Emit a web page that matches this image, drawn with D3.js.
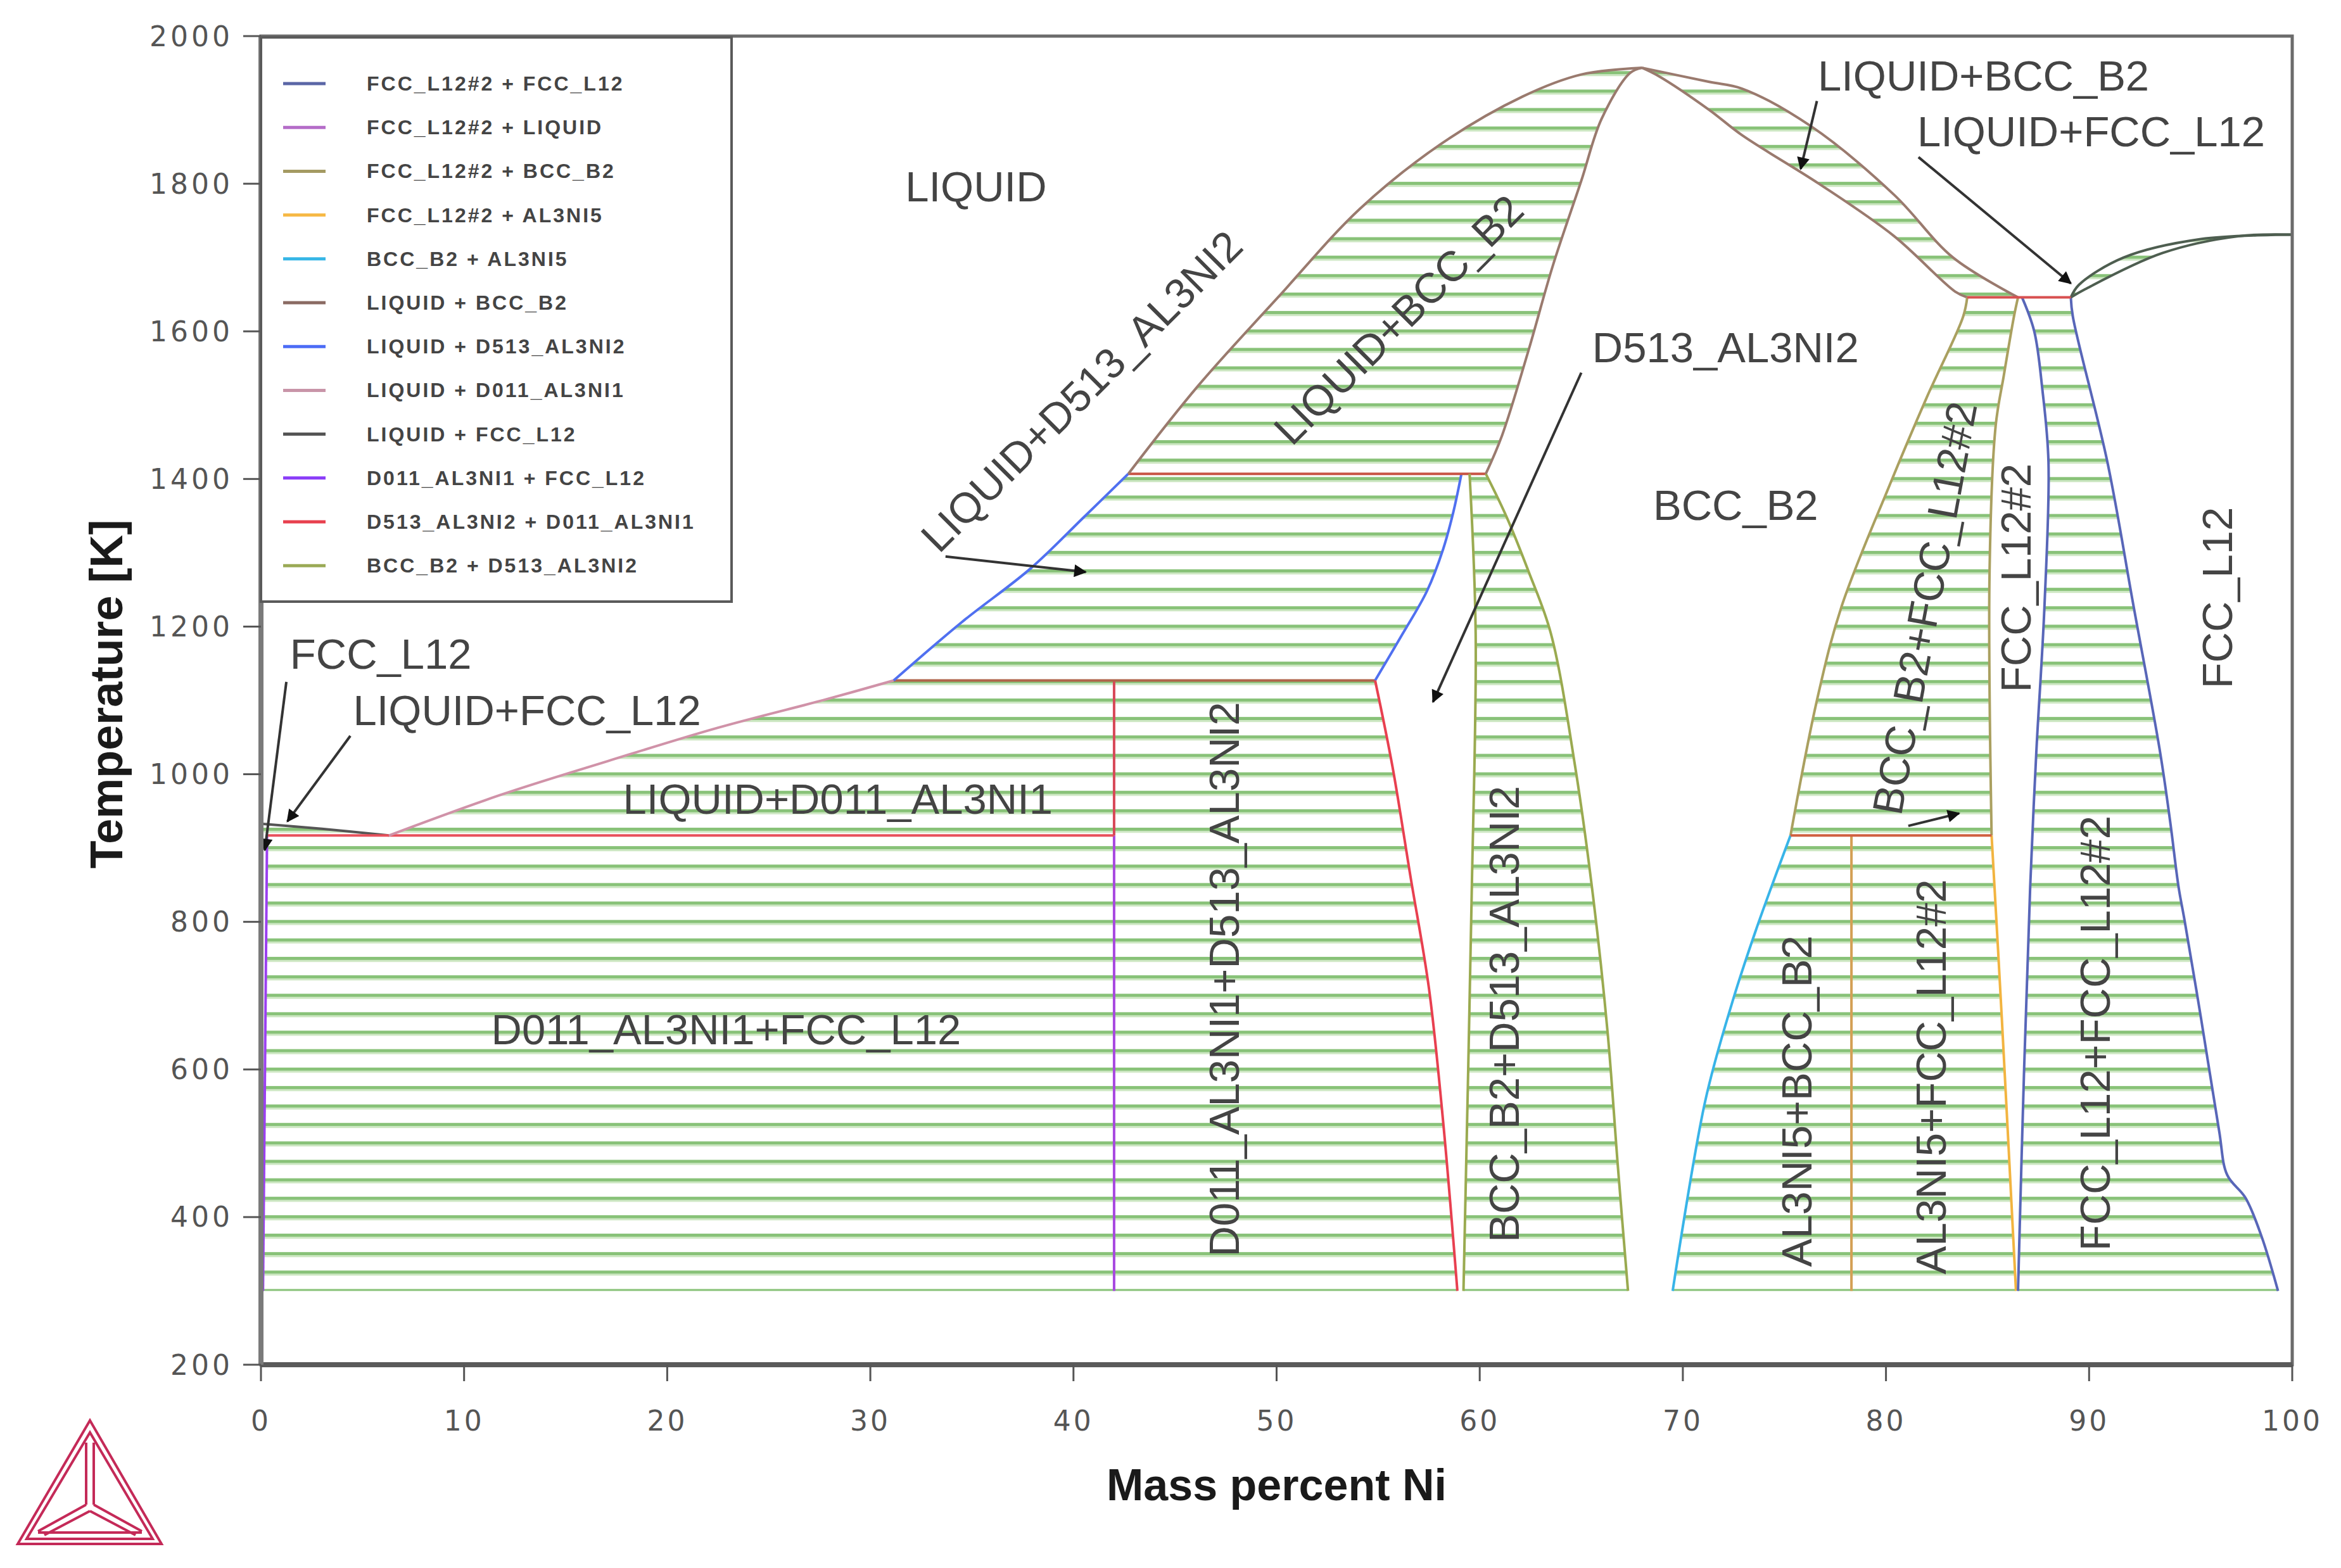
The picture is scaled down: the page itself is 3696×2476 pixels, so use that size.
<!DOCTYPE html>
<html>
<head>
<meta charset="utf-8">
<script src="https://cdn.jsdelivr.net/npm/d3@7"></script>
<style>
  body { margin: 0; background: #fff; }
  svg { display: block; }
</style>
</head>
<body>
<script>
// ---------------- tick labels ----------------
const xTicks = [0, 10, 20, 30, 40, 50, 60, 70, 80, 90, 100]
const yTicks = [200, 400, 600, 800, 1000, 1200, 1400, 1600, 1800, 2000]

// ---------------- phase boundaries  [mass % Ni, T (K)] ----------------
const fccSolvus = [[0.1, 300], [0.3, 917]]
const liqFcc = [[0, 933], [3, 926], [6.3, 917]]
const liqD011 = [[6.3, 917], [11.8, 972], [17.1, 1018], [22.5, 1063], [27.9, 1102], [31.15, 1127]]
const d011High = [[42, 917], [42, 1127]]
const d011Low = [[42, 300], [42, 917]]
const liqD513L = [[31.15, 1127], [34.5, 1206], [37.9, 1279], [40.5, 1348], [42.7, 1407]]
const liqD513R = [[54.85, 1127], [56.2, 1190], [57.4, 1248], [58.2, 1305], [58.7, 1355], [59.1, 1407]]
const d513Solv = [[54.85, 1127], [55.7, 1011], [56.6, 860], [57.5, 710], [58.2, 529], [58.9, 300]]
const bccD513L = [[59.5, 1407], [59.8, 1191], [59.6, 830], [59.2, 300]]
const bccD513R = [[60.3, 1407], [61.3, 1350], [62.4, 1275], [63.5, 1191], [64.7, 1010], [65.6, 830], [66.3, 649], [66.8, 469], [67.3, 300]]
const liqBccL = [[42.7, 1407], [46.1, 1525], [50.1, 1647], [54.1, 1766], [58.1, 1854], [62.1, 1918], [65.0, 1948], [68.0, 1957]]
const solBccL = [[60.3, 1407], [61.1, 1459], [62.4, 1574], [63.6, 1689], [65.0, 1804], [66.0, 1888], [67.4, 1950], [68.0, 1957]]
const liqBccR = [[68.0, 1957], [71.3, 1938], [72.9, 1929], [76.3, 1878], [80.4, 1785], [83.3, 1700], [86.5, 1646]]
const solBccR = [[68.0, 1957], [68.8, 1946], [71.3, 1900], [72.9, 1866], [76.7, 1800], [80.4, 1729], [83.4, 1654], [84.0, 1646]]
const bccL12L = [[84.0, 1646], [83.8, 1620], [82.0, 1510], [80.2, 1393], [77.8, 1226], [76.6, 1100], [75.3, 917]]
const bccL12R = [[86.5, 1646], [86.3, 1620], [85.8, 1540], [85.4, 1472], [85.1, 1275], [85.2, 917]]
const bccAl3 = [[75.3, 917], [73.6, 789], [72.4, 688], [71.1, 557], [69.5, 300]]
const al3ni5 = [[78.3, 917], [78.3, 300]]
const l12Al3 = [[85.2, 917], [85.7, 671], [86.4, 300]]
const l12L = [[86.7, 1646], [87.3, 1600], [87.7, 1521], [88.0, 1423], [87.8, 1226], [87.4, 1029], [87.1, 848], [86.8, 600], [86.5, 300]]
const l12R = [[89.1, 1646], [89.2, 1620], [90.9, 1423], [92.2, 1226], [93.5, 1029], [94.0, 934], [94.4, 848], [94.7, 802], [95.5, 671], [96.4, 517], [96.8, 457], [97.7, 426], [98.5, 373], [99.3, 300]]
const liqL12 = [[89.1, 1646], [89.5, 1663], [91.7, 1700], [95.5, 1725], [100, 1731]]
const solL12 = [[89.1, 1646], [89.8, 1657], [93.6, 1706], [97.4, 1729], [100, 1731]]

// invariant (three phase) lines
const inv917 = [[0.3, 917], [42, 917]]
const inv1127 = [[31.15, 1127], [54.85, 1127]]
const inv1407 = [[42.7, 1407], [60.3, 1407]]
const inv1646 = [[84.0, 1646], [89.1, 1646]]
const inv917R = [[75.3, 917], [85.2, 917]]

// ---------------- legend ----------------
const legendNames = [
    'FCC_L12#2 + FCC_L12', 'FCC_L12#2 + LIQUID', 'FCC_L12#2 + BCC_B2', 'FCC_L12#2 + AL3NI5',
    'BCC_B2 + AL3NI5', 'LIQUID + BCC_B2', 'LIQUID + D513_AL3NI2', 'LIQUID + D011_AL3NI1',
    'LIQUID + FCC_L12', 'D011_AL3NI1 + FCC_L12', 'D513_AL3NI2 + D011_AL3NI1', 'BCC_B2 + D513_AL3NI2'
]
const legendColors = ['#5a66a6', '#b46cc8', '#a49a62', '#f6b946', '#36b6e6', '#8a6a62',
    '#4c6cf6', '#c894a8', '#555555', '#8a3cf8', '#e8404e', '#9aaa56']

// ---------------- labels ----------------
const labelTexts = ['LIQUID', 'LIQUID+D513_AL3NI2', 'LIQUID+BCC_B2', 'D513_AL3NI2', 'BCC_B2',
    'LIQUID+BCC_B2', 'LIQUID+FCC_L12', 'BCC_B2+FCC_L12#2', 'FCC_L12#2', 'FCC_L12',
    'AL3NI5+BCC_B2', 'AL3NI5+FCC_L12#2', 'FCC_L12+FCC_L12#2', 'D011_AL3NI1+D513_AL3NI2',
    'BCC_B2+D513_AL3NI2', 'D011_AL3NI1+FCC_L12', 'LIQUID+D011_AL3NI1', 'FCC_L12', 'LIQUID+FCC_L12']
const labelAt = [[35.2, 1796], [40.4, 1519], [56.0, 1616], [72.1, 1578], [72.6, 1365],
    [84.8, 1946], [90.1, 1871], [81.9, 1225], [86.4, 1266], [96.3, 1239],
    [75.6, 557], [82.2, 590], [90.3, 649], [47.4, 722],
    [61.2, 675], [22.9, 654], [28.4, 967], [5.9, 1163], [13.1, 1087]]
const labelAngles = [0, -45, -45, 0, 0, 0, 0, -79.5, -90, -90, -90, -90, -90, -90, -90, 0, 0, 0, 0]

// arrows: from -> to
const arrows = [
    [[33.7, 1295], [40.6, 1274]],
    [[65.0, 1544], [57.7, 1098]],
    [[76.6, 1912], [75.8, 1820]],
    [[81.6, 1836], [89.1, 1665]],
    [[81.1, 930], [83.6, 947]],
    [[1.25, 1125], [0.19, 897]],
    [[4.4, 1052], [1.3, 936]]
]

// ---------------- setup ----------------
const W = 3696, H = 2476
const plot = { left: 412, top: 57, right: 3619, bottom: 2155 }

const svg = d3.select('body').append('svg')
    .attr('width', W)
    .attr('height', H)

const x = d3.scaleLinear().domain([0, 100]).range([plot.left, plot.right])
const y = d3.scaleLinear().domain([200, 2000]).range([plot.bottom, plot.top])
const line = d3.line()
    .x(d => x(d[0])).y(d => y(d[1]))
    .curve(d3.curveCatmullRom.alpha(0.5))

// a closed outline made of several boundary pieces
function outline(pieces) {
    return pieces.map((p, i) => {
        const s = line(p)
        return i ? 'L' + s.slice(1) : s
    }).join('') + 'Z'
}

// tie line hatch
const tieStep = y(0) - y(25)
const defs = svg.append('defs')
const pat = defs.append('pattern')
    .attr('id', 'tie')
    .attr('patternUnits', 'userSpaceOnUse')
    .attr('width', 20)
    .attr('height', tieStep)
    .attr('y', y(300) - 3)
pat.append('rect').attr('x', 0).attr('y', 0).attr('width', 20).attr('height', 5).attr('fill', '#88c278')
pat.append('rect').attr('x', 0).attr('y', 5).attr('width', 20).attr('height', 3).attr('fill', '#cbe6c0')

defs.append('marker')
    .attr('id', 'head')
    .attr('viewBox', '0 0 10 10')
    .attr('refX', 9).attr('refY', 5)
    .attr('markerWidth', 6).attr('markerHeight', 5)
    .attr('markerUnits', 'strokeWidth')
    .attr('orient', 'auto')
    .append('path').attr('d', 'M0,0 L10,5 L0,10 z').attr('fill', '#111')

const rev = a => a.slice().reverse()

// ---------------- regions ----------------
const regions = [
    [fccSolvus, inv917, rev(d011Low)],
    [liqD011, [[31.15, 1127], [42, 1127]], rev(d011High)],
    [[[42, 1127], [54.85, 1127]], d513Solv, [[58.9, 300], [42, 300]]],
    [liqD513L, [[42.7, 1407], [59.1, 1407]], rev(liqD513R)],
    [bccD513R, rev(bccD513L)],
    [liqBccL, rev(solBccL)],
    [liqBccR, rev(solBccR)],
    [bccL12L, rev(bccL12R)],
    [bccAl3, [[69.5, 300], [78.3, 300]], rev(al3ni5)],
    [[[78.3, 917], [85.2, 917]], l12Al3, [[86.4, 300], [78.3, 300]]],
    [l12L, rev(l12R)],
    [liqL12, rev(solL12)],
    [liqFcc, [[6.3, 917], [0.3, 917], [0, 933]]]
]

svg.append('g').selectAll('path')
    .data(regions)
    .enter().append('path')
    .attr('d', d => outline(d))
    .attr('fill', 'url(#tie)')

// ---------------- boundary lines ----------------
const bounds = [
    [fccSolvus, '#9a40f0'], [d011Low, '#a848e0'], [liqFcc, '#555555'],
    [inv917, '#e8505c'], [liqD011, '#d092a8'], [d011High, '#d84858'],
    [inv1127, '#b0644a'], [liqD513L, '#5070f0'], [liqD513R, '#5070f0'],
    [d513Solv, '#e84050'], [inv1407, '#c85545'],
    [bccD513L, '#9aaa50'], [bccD513R, '#9aaa50'],
    [liqBccL, '#9a7a6e'], [solBccL, '#9a7a6e'], [liqBccR, '#9a7a6e'], [solBccR, '#9a7a6e'],
    [bccL12L, '#aaa060'], [bccL12R, '#aaa060'],
    [bccAl3, '#38b4e8'], [al3ni5, '#d4a055'], [l12Al3, '#f2b440'],
    [l12L, '#5866b8'], [l12R, '#5866b8'],
    [liqL12, '#4e5e50'], [solL12, '#4e5e50'],
    [inv1646, '#d85050'], [inv917R, '#d06040']
]

svg.append('g').selectAll('path')
    .data(bounds)
    .enter().append('path')
    .attr('d', d => line(d[0]))
    .attr('fill', 'none')
    .attr('stroke', d => d[1])
    .attr('stroke-width', 4)
    .attr('stroke-linejoin', 'round')

// ---------------- labels + arrows ----------------
svg.append('g').selectAll('text')
    .data(labelTexts)
    .enter().append('text')
    .attr('transform', (d, i) => 'translate(' + x(labelAt[i][0]) + ',' + y(labelAt[i][1]) + ') rotate(' + labelAngles[i] + ')')
    .attr('text-anchor', 'middle')
    .attr('dominant-baseline', 'central')
    .attr('font-family', 'Liberation Sans, Arial, sans-serif')
    .attr('font-size', 67)
    .attr('fill', '#444')
    .text(d => d)

svg.append('g').selectAll('line')
    .data(arrows)
    .enter().append('line')
    .attr('x1', d => x(d[0][0])).attr('y1', d => y(d[0][1]))
    .attr('x2', d => x(d[1][0])).attr('y2', d => y(d[1][1]))
    .attr('stroke', '#333')
    .attr('stroke-width', 4)
    .attr('marker-end', 'url(#head)')

// ---------------- axes ----------------
const axes = svg.append('g')
axes.append('rect')
    .attr('x', plot.left).attr('y', plot.top)
    .attr('width', plot.right - plot.left).attr('height', plot.bottom - plot.top)
    .attr('fill', 'none').attr('stroke', '#6b6b6b').attr('stroke-width', 5)
axes.append('line')
    .attr('x1', plot.left).attr('x2', plot.right)
    .attr('y1', plot.bottom).attr('y2', plot.bottom)
    .attr('stroke', '#5a5a5a').attr('stroke-width', 8)
axes.append('line')
    .attr('x1', plot.left).attr('x2', plot.left)
    .attr('y1', plot.top).attr('y2', plot.bottom)
    .attr('stroke', '#7a7a7a').attr('stroke-width', 8)

axes.selectAll('.xt')
    .data(xTicks)
    .enter().append('line')
    .attr('x1', d => x(d)).attr('x2', d => x(d))
    .attr('y1', plot.bottom).attr('y2', plot.bottom + 26)
    .attr('stroke', '#555').attr('stroke-width', 3)
axes.selectAll('.xl')
    .data(xTicks)
    .enter().append('text')
    .attr('x', d => x(d))
    .attr('y', plot.bottom + 104)
    .attr('text-anchor', 'middle')
    .attr('font-family', 'DejaVu Sans, sans-serif')
    .attr('font-size', 44)
    .attr('letter-spacing', 4)
    .attr('fill', '#555')
    .text(d => d)

axes.selectAll('.yt')
    .data(yTicks)
    .enter().append('line')
    .attr('x1', plot.left - 28).attr('x2', plot.left)
    .attr('y1', d => y(d)).attr('y2', d => y(d))
    .attr('stroke', '#555').attr('stroke-width', 3)
axes.selectAll('.yl')
    .data(yTicks)
    .enter().append('text')
    .attr('x', plot.left - 44)
    .attr('y', d => y(d))
    .attr('text-anchor', 'end')
    .attr('dominant-baseline', 'central')
    .attr('font-family', 'DejaVu Sans, sans-serif')
    .attr('font-size', 44)
    .attr('letter-spacing', 5)
    .attr('fill', '#555')
    .text(d => d)

svg.append('text')
    .attr('x', (plot.left + plot.right) / 2)
    .attr('y', 2345)
    .attr('text-anchor', 'middle')
    .attr('dominant-baseline', 'central')
    .attr('font-family', 'Liberation Sans, Arial, sans-serif')
    .attr('font-weight', 'bold')
    .attr('font-size', 70)
    .attr('fill', '#1a1a1a')
    .text('Mass percent Ni')

svg.append('text')
    .attr('transform', 'translate(168,1096) rotate(-90)')
    .attr('text-anchor', 'middle')
    .attr('dominant-baseline', 'central')
    .attr('font-family', 'Liberation Sans, Arial, sans-serif')
    .attr('font-weight', 'bold')
    .attr('font-size', 72)
    .attr('fill', '#1a1a1a')
    .text('Temperature [K]')

// ---------------- legend ----------------
const legend = svg.append('g')
legend.append('rect')
    .attr('x', plot.left).attr('y', 59)
    .attr('width', 743).attr('height', 891)
    .attr('fill', '#fff').attr('stroke', '#5a5a5a').attr('stroke-width', 4)

const rows = legend.selectAll('g.row')
    .data(legendNames)
    .enter().append('g')
    .attr('transform', (d, i) => 'translate(0,' + (132 + i * 69.2) + ')')
rows.append('line')
    .attr('x1', 447).attr('x2', 514)
    .attr('stroke', (d, i) => legendColors[i])
    .attr('stroke-width', 5)
rows.append('text')
    .attr('x', 579)
    .attr('dominant-baseline', 'central')
    .attr('font-family', 'Liberation Sans, Arial, sans-serif')
    .attr('font-weight', 'bold')
    .attr('font-size', 32)
    .attr('letter-spacing', 3)
    .attr('fill', '#444')
    .text(d => d)

// ---------------- logo ----------------
const logo = svg.append('g')
    .attr('fill', 'none')
    .attr('stroke', '#c42a58')
    .attr('stroke-width', 4)
    .attr('stroke-linejoin', 'miter')
logo.append('path').attr('d', 'M142,2243 L28,2438 L255,2438 Z')
logo.append('path').attr('d', 'M142,2262 L42,2430 L241,2430 Z')
logo.append('path').attr('d', 'M136,2278 L136,2376 M148,2278 L148,2376')
logo.append('path').attr('d', 'M60,2418 L136,2376 M70,2424 L142,2386')
logo.append('path').attr('d', 'M224,2418 L148,2376 M214,2424 L142,2386')
logo.append('path').attr('d', 'M60,2420 L224,2420')
</script>
</body>
</html>
